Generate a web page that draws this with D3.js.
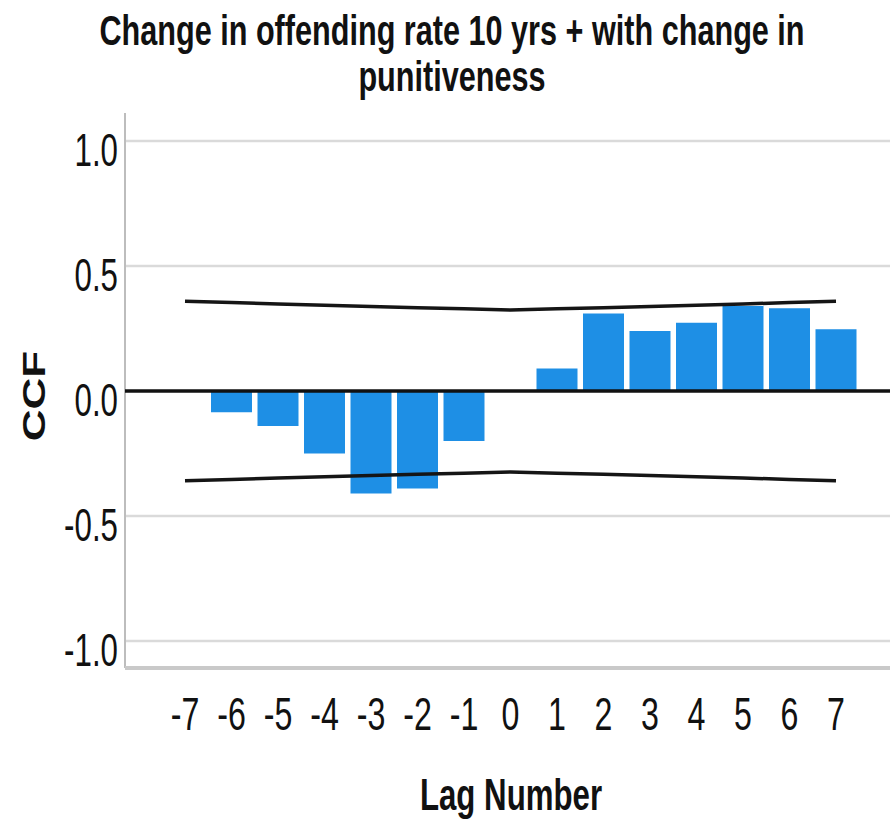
<!DOCTYPE html>
<html>
<head>
<meta charset="utf-8">
<script src="https://cdn.jsdelivr.net/npm/d3@7"></script>
<style>
  html, body { margin: 0; padding: 0; background: #fff; }
  svg { display: block; }
  text { font-family: "Liberation Sans", Arial, sans-serif; fill: #111; }
</style>
</head>
<body>
<svg id="chart" width="890" height="829"></svg>
<script>
// Cross-correlation values by lag
const lags = [-7, -6, -5, -4, -3, -2, -1, 0, 1, 2, 3, 4, 5, 6, 7];
const ccf = [0, -0.085, -0.14, -0.25, -0.41, -0.39, -0.2, 0, 0.09, 0.31, 0.24, 0.273, 0.34, 0.331, 0.247];
// Confidence limit (upper; lower is its negative) at each lag
const confLimit = [0.359, 0.354, 0.348, 0.343, 0.338, 0.333, 0.329, 0.324, 0.329, 0.333, 0.338, 0.343, 0.348, 0.354, 0.359];
const yTicks = [-1.0, -0.5, 0.0, 0.5, 1.0];
const yTickLabels = ["-1.0", "-0.5", "0.0", "0.5", "1.0"];
const titleLines = ["Change in offending rate 10 yrs + with change in", "punitiveness"];
const xTitle = "Lag Number";
const yTitle = "CCF";

const svg = d3.select("#chart");
const plotLeft = 125, plotRight = 890, plotTop = 113, plotBottom = 668;

const x = d3.scaleLinear().domain([-7, 7]).range([185, 836]);
const y = d3.scaleLinear().domain([-1, 1]).range([641, 141]);
const barW = 41;

// Squashed text helper: narrow glyphs like a condensed face
function label(g, str, tx, ty, opts) {
  const sx = opts.sx || 0.72;
  return g.append("text")
    .attr("transform", `translate(${tx},${ty}) scale(${sx},1)` + (opts.rotate ? ` rotate(${opts.rotate})` : ""))
    .attr("text-anchor", opts.anchor || "middle")
    .style("font-size", opts.size + "px")
    .style("font-weight", opts.bold ? "bold" : "normal")
    .text(str);
}

// Gridlines
svg.append("g").selectAll("line").data(yTicks.filter(d => d !== 0)).join("line")
  .attr("x1", plotLeft).attr("x2", plotRight)
  .attr("y1", d => y(d)).attr("y2", d => y(d))
  .attr("stroke", "#dadada").attr("stroke-width", 2.5);

// Axis frame
svg.append("line").attr("x1", plotLeft).attr("x2", plotLeft)
  .attr("y1", plotTop).attr("y2", plotBottom)
  .attr("stroke", "#bdbdbd").attr("stroke-width", 2);
svg.append("line").attr("x1", plotLeft).attr("x2", plotRight)
  .attr("y1", plotBottom).attr("y2", plotBottom)
  .attr("stroke", "#c9c9c9").attr("stroke-width", 4);

// Bars
svg.append("g").selectAll("rect").data(lags.map((l, i) => ({ lag: l, v: ccf[i] }))).join("rect")
  .attr("x", d => x(d.lag) - barW / 2)
  .attr("width", barW)
  .attr("y", d => Math.min(y(d.v), y(0)))
  .attr("height", d => Math.abs(y(d.v) - y(0)))
  .attr("fill", "#1e8fe5");

// Zero reference line
svg.append("line").attr("x1", plotLeft).attr("x2", plotRight)
  .attr("y1", y(0)).attr("y2", y(0))
  .attr("stroke", "#111").attr("stroke-width", 3.5);

// Confidence limits
const line = d3.line().x(d => d[0]).y(d => d[1]);
[1, -1].forEach(sign => {
  svg.append("path")
    .attr("d", line(lags.map((l, i) => [x(l), y(sign * confLimit[i])])))
    .attr("fill", "none").attr("stroke", "#151515").attr("stroke-width", 3.5);
});

// Y tick labels
const yl = svg.append("g");
yTicks.forEach((t, i) => label(yl, yTickLabels[i], 118, y(t) + 25, { size: 46, anchor: "end", sx: 0.68 }));

// X tick labels
const xl = svg.append("g");
lags.forEach(l => label(xl, String(l), x(l), 730, { size: 46, sx: 0.70 }));

// Titles
const tg = svg.append("g");
label(tg, titleLines[0], 452, 45, { size: 42, bold: true, sx: 0.729 });
label(tg, titleLines[1], 452, 91, { size: 42, bold: true, sx: 0.729 });
label(tg, xTitle, 511, 810, { size: 44, bold: true, sx: 0.71 });
label(tg, yTitle, 45, 396, { size: 44, bold: true, sx: 0.72, rotate: -90 });
</script>
</body>
</html>
